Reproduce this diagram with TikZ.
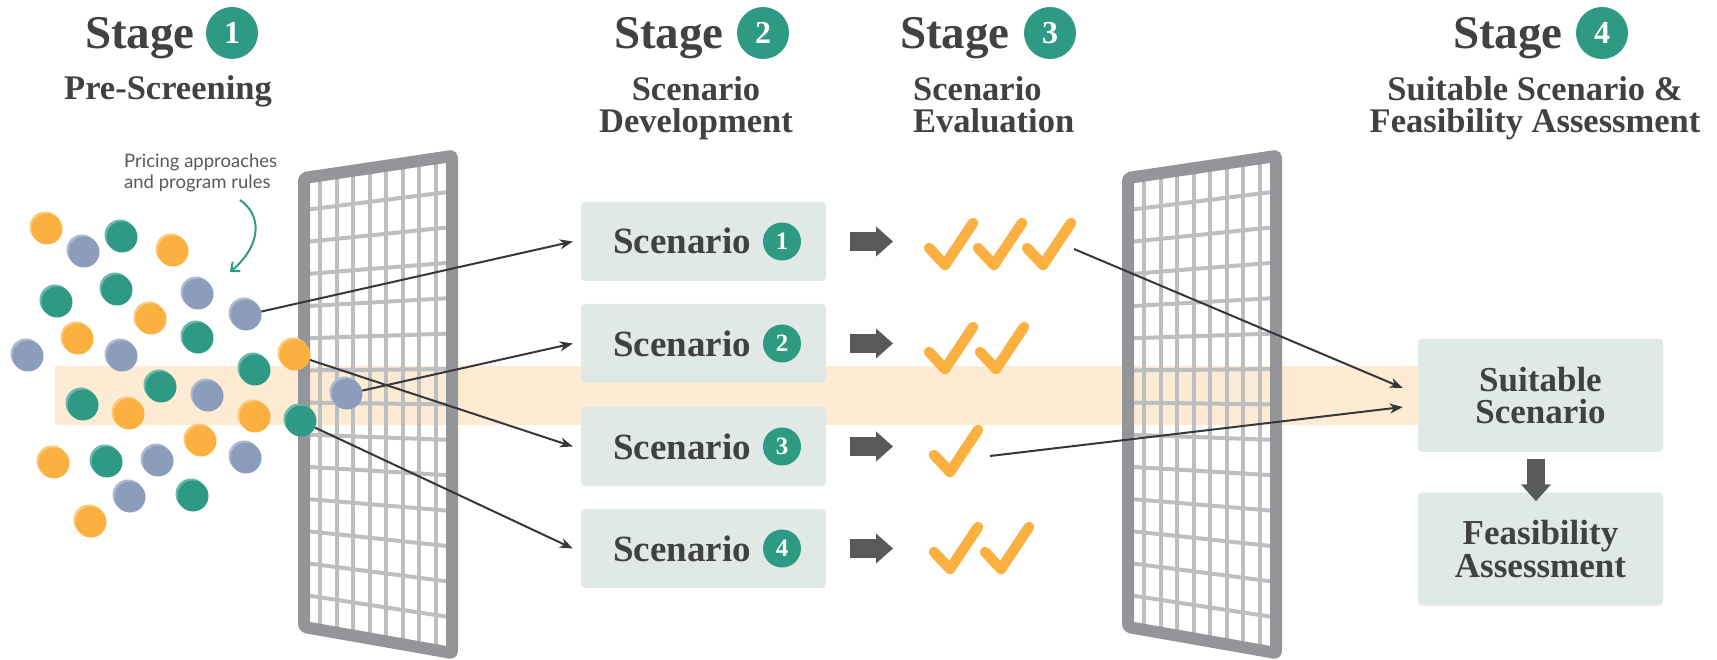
\documentclass[tikz,border=0pt]{standalone}
\usepackage{fontspec}
\setmainfont{Liberation Serif}
\newfontfamily\notefont{Lato}
\usetikzlibrary{arrows.meta,positioning}

\definecolor{stageteal}{RGB}{46,154,131}
\definecolor{dotorange}{RGB}{251,176,64}
\definecolor{dotblue}{RGB}{139,157,187}
\definecolor{bandpeach}{RGB}{254,235,211}
\definecolor{boxgray}{RGB}{225,233,230}
\definecolor{inkgray}{RGB}{65,64,66}
\definecolor{notegray}{RGB}{88,89,91}
\definecolor{rimgray}{RGB}{147,149,152}
\definecolor{meshgray}{RGB}{188,190,192}
\definecolor{arrowgray}{RGB}{88,89,91}
\definecolor{linkgray}{RGB}{55,55,57}

\begin{document}
\begin{tikzpicture}
            [x=1pt,y=-1pt,every node/.style={inner sep=0pt,text=inkgray},
             headtext/.style={font=\bfseries\fontsize{47}{47}\selectfont},
             subtext/.style={font=\bfseries\fontsize{34.5}{32}\selectfont},
             stagenum/.style={circle,fill=stageteal,text=white,minimum size=52pt,font=\bfseries\fontsize{32}{32}\selectfont},
             scbox/.style={rectangle,rounded corners=4pt,fill=boxgray,minimum width=245pt,minimum height=79pt},
             sctext/.style={font=\bfseries\fontsize{37}{37}\selectfont},
             scnum/.style={circle,fill=stageteal,text=white,minimum size=38pt,font=\bfseries\fontsize{25}{25}\selectfont},
             endbox/.style={rectangle,rounded corners=4pt,fill=boxgray,minimum width=245pt,minimum height=113pt,align=center,font=\bfseries\fontsize{35}{32.5}\selectfont},
             marble/.style={circle,minimum size=31pt,fill=#1,preaction={fill=#1!70!white,transform canvas={shift={(-2pt,2pt)}}}},
             link/.style={draw=linkgray,line width=2pt,-{Stealth[length=13pt,width=10pt,inset=4pt]}},
             curvearrow/.style={draw=stageteal,line width=2pt,-{Straight Barb[length=7pt,width=12pt]}},
             fatarrow/.style={draw=arrowgray,line width=19pt,-{Triangle[length=17pt,width=29pt]}},
             meshline/.style={draw=meshgray,line width=4pt},
             rimline/.style={draw=rimgray,line width=12pt,line join=round,rounded corners=2pt},
             okmark/.pic={\draw[draw=dotorange,line width=10.5pt,line cap=round,line join=round] (0,0) -- (16,17) -- (44,-25);},
             screen/.pic={
               \foreach \i in {1,...,13}
                 \draw[meshline] (0,{\i*449/14}) -- (148,{-22+\i*497/14});
               \foreach \j in {1,...,8}
                 \draw[meshline] ({\j*148/9},{-22*\j/9}) -- ({\j*148/9},{449+26*\j/9});
               \draw[rimline] (0,0) -- (148,-22) -- (148,475) -- (0,449) -- cycle;
             }]
            \useasboundingbox (0,0) rectangle (1717,660);
            % the band behind the suitable path
            \fill[bandpeach] (55,366) rectangle (1540,425);
            % the two screens
            \pic at (304,178) {screen};
            \pic at (1128,178) {screen};
            % stage headings
            \node[headtext,anchor=base east] (stage1) at (195,49) {Stage};
            \node[stagenum] (num1) at (232,33) {1};
            \node[subtext,anchor=base] (sub1) at (168,100) {Pre-Screening};
            \node[headtext,anchor=base east] (stage2) at (724,49) {Stage};
            \node[stagenum] (num2) at (763,33) {2};
            \node[subtext,align=center,anchor=north] (sub2) at (696,76.5) {Scenario\\Development};
            \node[headtext,anchor=base east] (stage3) at (1010,49) {Stage};
            \node[stagenum] (num3) at (1050,33) {3};
            \node[subtext,align=left,anchor=north west] (sub3) at (913,76.5) {Scenario\\Evaluation};
            \node[headtext,anchor=base east] (stage4) at (1563,49) {Stage};
            \node[stagenum] (num4) at (1602,33) {4};
            \node[subtext,align=center,anchor=north] (sub4) at (1535,76.5) {Suitable Scenario \&\\Feasibility Assessment};
            % the pool of ideas
            \node[marble=dotorange] (b1) at (47,229) {};
            \node[marble=dotblue] (b2) at (84,252) {};
            \node[marble=stageteal] (b3) at (122,237) {};
            \node[marble=dotorange] (b4) at (173,251) {};
            \node[marble=stageteal] (b5) at (57,302) {};
            \node[marble=stageteal] (b6) at (117,290) {};
            \node[marble=dotblue] (b7) at (198,294) {};
            \node[marble=dotblue] (b8) at (246,315) {};
            \node[marble=dotorange] (b9) at (151,319) {};
            \node[marble=dotorange] (b10) at (78,339) {};
            \node[marble=stageteal] (b11) at (198,338) {};
            \node[marble=dotblue] (b12) at (28,356) {};
            \node[marble=dotblue] (b13) at (122,356) {};
            \node[marble=stageteal] (b14) at (255,370) {};
            \node[marble=dotorange] (b15) at (295,355) {};
            \node[marble=stageteal] (b16) at (161,387) {};
            \node[marble=stageteal] (b17) at (83,405) {};
            \node[marble=dotorange] (b18) at (129,414) {};
            \node[marble=dotblue] (b19) at (208,396) {};
            \node[marble=dotorange] (b20) at (255,417) {};
            \node[marble=stageteal] (b21) at (301,421) {};
            \node[marble=dotblue] (b22) at (347,394) {};
            \node[marble=dotorange] (b23) at (201,441) {};
            \node[marble=dotorange] (b24) at (54,463) {};
            \node[marble=stageteal] (b25) at (107,462) {};
            \node[marble=dotblue] (b26) at (158,461) {};
            \node[marble=dotblue] (b27) at (246,458) {};
            \node[marble=dotblue] (b28) at (130,497) {};
            \node[marble=stageteal] (b29) at (193,496) {};
            \node[marble=dotorange] (b30) at (91,522) {};
            % note with its curved arrow
            \node[font=\notefont\fontsize{18.5}{21}\selectfont,text=notegray,align=left,anchor=north west] (note) at (124,154) {Pricing approaches\\and program rules};
            \coordinate (hint) at (240,200);
            \coordinate (hintend) at (230,272);
            \draw[curvearrow] (hint) .. controls (262,215) and (262,245) .. (hintend);
            % scenarios
            \node[scbox] (sc1) at (703.5,241.5) {};
            \node[sctext,anchor=base west] (lbl1) at (613,254) {Scenario};
            \node[scnum] (sn1) at (782,241.5) {1};
            \node[scbox] (sc2) at (703.5,343.5) {};
            \node[sctext,anchor=base west] (lbl2) at (613,356) {Scenario};
            \node[scnum] (sn2) at (782,343.5) {2};
            \node[scbox] (sc3) at (703.5,446.5) {};
            \node[sctext,anchor=base west] (lbl3) at (613,459) {Scenario};
            \node[scnum] (sn3) at (782,446.5) {3};
            \node[scbox] (sc4) at (703.5,548.5) {};
            \node[sctext,anchor=base west] (lbl4) at (613,561) {Scenario};
            \node[scnum] (sn4) at (782,548.5) {4};
            % what passes the first screen
            \draw[link] (b8) -- ([xshift=-8pt]sc1.west);
            \draw[link] (b22) -- ([xshift=-8pt]sc2.west);
            \draw[link] (b15) -- ([xshift=-8pt]sc3.west);
            \draw[link] (b21) -- ([xshift=-8pt]sc4.west);
            % evaluation
            \coordinate (ev1) at (929,248);
            \coordinate (ev2) at (929,352);
            \coordinate (ev3) at (934,455);
            \coordinate (ev4) at (934,552);
            \draw[fatarrow,shorten <=24pt,shorten >=36pt] (sc1.east) -- (sc1.east -| ev1);
            \draw[fatarrow,shorten <=24pt,shorten >=36pt] (sc2.east) -- (sc2.east -| ev2);
            \draw[fatarrow,shorten <=24pt,shorten >=36pt] (sc3.east) -- (sc3.east -| ev1);
            \draw[fatarrow,shorten <=24pt,shorten >=36pt] (sc4.east) -- (sc4.east -| ev1);
            \pic at (ev1) {okmark};
            \pic at (978,248) {okmark};
            \pic at (1027,248) {okmark};
            \pic at (ev2) {okmark};
            \pic at (980,352) {okmark};
            \pic at (ev3) {okmark};
            \pic at (ev4) {okmark};
            \pic at (985,552) {okmark};
            % stage 4
            \node[endbox] (suit) at (1540.5,395.5) {Suitable\\Scenario};
            \node[endbox] (feas) at (1540.5,549) {Feasibility\\Assessment};
            \draw[fatarrow,line width=18pt,shorten <=7pt,shorten >=-9pt] ([xshift=-4.5pt]suit.south) -- ([xshift=-4.5pt]feas.north);
            \coordinate (tk1) at (1074,249);
            \coordinate (tk3) at (990,456);
            \draw[link] (tk1) -- ([xshift=-15pt,yshift=7.5pt]suit.west);
            \draw[link] (tk3) -- ([xshift=-15pt,yshift=-11.5pt]suit.west);
        \end{tikzpicture}
\end{document}
